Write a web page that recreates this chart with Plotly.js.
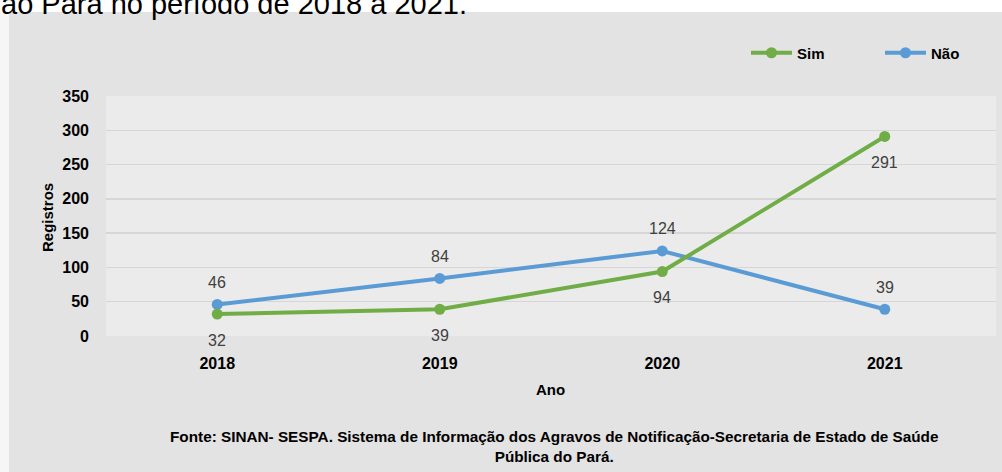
<!DOCTYPE html>
<html>
<head>
<meta charset="utf-8">
<script src="https://cdn.plot.ly/plotly-3.0.1.min.js"></script>
<style>
  html, body { margin: 0; padding: 0; width: 1002px; height: 472px; overflow: hidden; background: #e3e3e3; }
  #top { position: absolute; left: 0; top: 0; width: 1002px; height: 12px; background: #ffffff; }
  #strip { position: absolute; left: 0; top: 12px; width: 9px; height: 460px; background: #f6f6f6; }
  #chart { position: absolute; left: 0; top: 0; width: 1002px; height: 472px; }
</style>
</head>
<body>
<div id="top"></div>
<div id="strip"></div>
<div id="chart"></div>
<script>
// ---- data ----
const years = ["2018", "2019", "2020", "2021"];
const simValues = [32, 39, 94, 291];
const naoValues = [46, 84, 124, 39];
const seriesNames = ["Sim", "Não"];
const yTicks = [0, 50, 100, 150, 200, 250, 300, 350];
const yTitle = "Registros";
const xTitle = "Ano";
const sourceText = "Fonte: SINAN- SESPA. Sistema de Informação dos Agravos de Notificação-Secretaria de Estado de Saúde<br>Pública do Pará.";
const topText = "ão Pará no período de 2018 a 2021.";

// ---- geometry helpers (pixel -> paper) ----
const W = 1002, H = 472;
const L = 106, R = 6, T = 96, B = 136;
const pw = W - L - R, ph = H - T - B;
const px = x => (x - L) / pw;
const py = y => (H - B - y) / ph;

const FONT = "'Liberation Sans', Arial, sans-serif";
const green = "#70ad47", blue = "#5b9bd5";

const traces = [
  {
    x: years, y: naoValues, name: seriesNames[1], type: "scatter", mode: "lines+markers",
    line: { color: blue, width: 4 }, marker: { color: blue, size: 11 }, hoverinfo: "skip",
    legend: "legend2"
  },
  {
    x: years, y: simValues, name: seriesNames[0], type: "scatter", mode: "lines+markers",
    line: { color: green, width: 4 }, marker: { color: green, size: 11 }, hoverinfo: "skip",
    legend: "legend"
  }
];

const annotations = [];
naoValues.forEach((v, i) => annotations.push({
  x: i, y: v, xref: "x", yref: "y", text: String(v), showarrow: false,
  yshift: 22, font: { family: FONT, size: 16, color: "#404040" }
}));
simValues.forEach((v, i) => annotations.push({
  x: i, y: v, xref: "x", yref: "y", text: String(v), showarrow: false,
  yshift: -26, font: { family: FONT, size: 16, color: "#404040" }
}));
annotations.push({
  x: px(47), y: py(217), xref: "paper", yref: "paper", text: yTitle, textangle: -90,
  showarrow: false, xanchor: "center", yanchor: "middle",
  font: { family: FONT, size: 15, color: "#000000", weight: "bold" }
});
annotations.push({
  x: px(550), y: py(389), xref: "paper", yref: "paper", text: xTitle,
  showarrow: false, xanchor: "center", yanchor: "middle",
  font: { family: FONT, size: 15, color: "#000000", weight: "bold" }
});
annotations.push({
  x: px(554), y: py(446), xref: "paper", yref: "paper", text: sourceText,
  showarrow: false, xanchor: "center", yanchor: "middle", align: "center",
  font: { family: FONT, size: 15.3, color: "#000000", weight: "bold" }
});
annotations.push({
  x: px(-1), y: py(4), xref: "paper", yref: "paper", text: topText,
  showarrow: false, xanchor: "left", yanchor: "middle", align: "left",
  font: { family: FONT, size: 29, color: "#000000" }
});

const legendCommon = {
  orientation: "h", xanchor: "left", yanchor: "middle",
  bgcolor: "rgba(0,0,0,0)", borderwidth: 0, itemwidth: 41,
  font: { family: FONT, size: 15, color: "#000000", weight: "bold" }
};

const layout = {
  width: W, height: H,
  margin: { l: L, r: R, t: T, b: B, pad: 0, autoexpand: false },
  paper_bgcolor: "rgba(0,0,0,0)",
  plot_bgcolor: "#ebebeb",
  showlegend: true,
  legend: Object.assign({}, legendCommon, { x: px(746), y: py(53) }),
  legend2: Object.assign({}, legendCommon, { x: px(880), y: py(53) }),
  xaxis: {
    type: "category", range: [-0.5, 3.5], showgrid: false, zeroline: false, showline: false,
    ticks: "", ticklabelstandoff: 16,
    tickfont: { family: FONT, size: 16, color: "#000000", weight: "bold" }
  },
  yaxis: {
    range: [0, 350], tickvals: yTicks, showgrid: true, gridcolor: "#d6d6d6", gridwidth: 1.5,
    zeroline: false, showline: false, ticks: "", ticklabelstandoff: 16,
    tickfont: { family: FONT, size: 16, color: "#000000", weight: "bold" }
  },
  annotations: annotations
};

Plotly.newPlot("chart", traces, layout, { staticPlot: true, displayModeBar: false });
</script>
</body>
</html>
